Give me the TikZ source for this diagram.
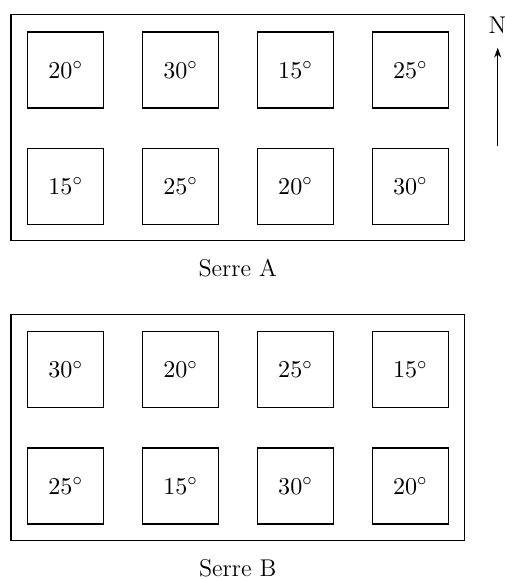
\documentclass[tikz,border=0pt]{standalone}
\usetikzlibrary{arrows.meta}
\begin{document}
\begin{tikzpicture}[x=0.4545pt,y=-0.4545pt,
  every node/.style={font=\fontsize{11}{13}\selectfont},
  cell/.style={draw,line width=0.6pt,minimum size=76*0.4545pt,inner sep=0pt},
  serre/.style={draw,line width=0.6pt},
  lbl/.style={inner sep=0pt}]
\useasboundingbox (0,0) rectangle (505,579);
% Serre A
\draw[serre] (11,14.7) rectangle (464.3,240.7);
\node[cell] (a1) at (65.7,70) {$20^\circ$};
\node[cell] (a2) at (180.6,70) {$30^\circ$};
\node[cell] (a3) at (295.5,70) {$15^\circ$};
\node[cell] (a4) at (410.4,70) {$25^\circ$};
\node[cell] (a5) at (65.7,186.3) {$15^\circ$};
\node[cell] (a6) at (180.6,186.3) {$25^\circ$};
\node[cell] (a7) at (295.5,186.3) {$20^\circ$};
\node[cell] (a8) at (410.4,186.3) {$30^\circ$};
\node[lbl] (la) at (237.7,268) {Serre A};
% Serre B
\draw[serre] (11,314.3) rectangle (464.3,540.7);
\node[cell] (b1) at (65.7,369.6) {$30^\circ$};
\node[cell] (b2) at (180.6,369.6) {$20^\circ$};
\node[cell] (b3) at (295.5,369.6) {$25^\circ$};
\node[cell] (b4) at (410.4,369.6) {$15^\circ$};
\node[cell] (b5) at (65.7,485.9) {$25^\circ$};
\node[cell] (b6) at (180.6,485.9) {$15^\circ$};
\node[cell] (b7) at (295.5,485.9) {$30^\circ$};
\node[cell] (b8) at (410.4,485.9) {$20^\circ$};
\node[lbl] (lb) at (237.7,568) {Serre B};
% North arrow
\node[lbl] (n) at (497.5,25) {N};
\coordinate (s) at (497.7,145.7);
\coordinate (t) at (497.7,47.7);
\draw[line width=0.6pt,-{Stealth[length=4.5pt,width=3.2pt]}] (s) -- (t);
\end{tikzpicture}
\end{document}
